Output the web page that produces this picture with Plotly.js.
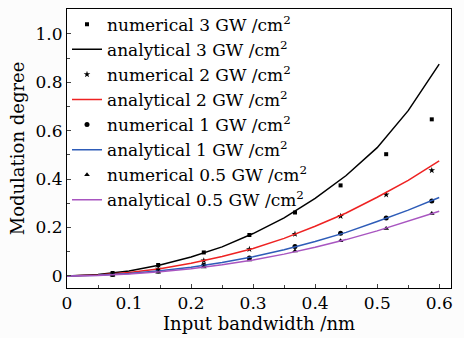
<!DOCTYPE html>
<html><head><meta charset="utf-8">
<script src="https://cdn.plot.ly/plotly-3.0.1.min.js"></script>
<style>html,body{margin:0;padding:0;background:#fff;}#chart{width:464px;height:338px;}</style>
</head><body><div id="chart"></div>
<script>
// Numerical sample positions (nm)
const numX = [0.0735, 0.147, 0.2205, 0.294, 0.3675, 0.441, 0.5145, 0.588];
const num3 = [0.012, 0.045, 0.097, 0.169, 0.262, 0.374, 0.503, 0.647];
const num2 = [0.006, 0.029, 0.063, 0.110, 0.173, 0.247, 0.336, 0.436];
const num1 = [0.006, 0.020, 0.044, 0.074, 0.121, 0.176, 0.239, 0.310];
const num05 = [0.004, 0.015, 0.037, 0.066, 0.103, 0.145, 0.196, 0.258];
// Analytical curves
const anaX = [0, 0.05, 0.1, 0.15, 0.2, 0.25, 0.3, 0.35, 0.4, 0.45, 0.5, 0.55, 0.6];
const ana3 = [0, 0.006, 0.020, 0.045, 0.078, 0.120, 0.175, 0.240, 0.320, 0.415, 0.530, 0.683, 0.875];
const ana2 = [0, 0.004, 0.014, 0.030, 0.052, 0.080, 0.113, 0.155, 0.205, 0.260, 0.325, 0.395, 0.475];
const ana1 = [0, 0.003, 0.010, 0.021, 0.036, 0.055, 0.079, 0.108, 0.142, 0.180, 0.225, 0.272, 0.324];
const ana05 = [0, 0.002, 0.008, 0.017, 0.030, 0.046, 0.066, 0.090, 0.118, 0.150, 0.186, 0.225, 0.267];
const names = ['numerical 3 GW /cm<sup>2</sup>', 'analytical 3 GW /cm<sup>2</sup>',
  'numerical 2 GW /cm<sup>2</sup>', 'analytical 2 GW /cm<sup>2</sup>',
  'numerical 1 GW /cm<sup>2</sup>', 'analytical 1 GW /cm<sup>2</sup>',
  'numerical 0.5 GW /cm<sup>2</sup>', 'analytical 0.5 GW /cm<sup>2</sup>'];
const xTickVals = [0, 0.1, 0.2, 0.3, 0.4, 0.5, 0.6];
const xTickText = ['0', '0.1', '0.2', '0.3', '0.4', '0.5', '0.6'];
const yTickVals = [0, 0.2, 0.4, 0.6, 0.8, 1.0];
const yTickText = ['0', '0.2', '0.4', '0.6', '0.8', '1.0'];

const mk = (y, sym, size) => ({x: numX, y: y, mode: 'markers', type: 'scatter',
  marker: {symbol: sym, size: size, color: '#000'}});
const ln = (y, c) => ({x: anaX, y: y, mode: 'lines', type: 'scatter',
  line: {color: c, width: 1.5}});
const traces = [mk(num3, 'square', 4), ln(ana3, '#000000'),
  mk(num2, 'star', 5), ln(ana2, '#ee2222'),
  mk(num1, 'circle', 5), ln(ana1, '#2e5cb8'),
  mk(num05, 'triangle-up', 5), ln(ana05, '#a855c0')];
traces.forEach((t, i) => t.name = names[i]);

const fam = '"DejaVu Serif", "Liberation Serif", serif';
Plotly.newPlot('chart', traces, {
  width: 464, height: 338,
  margin: {l: 67, r: 13, t: 8, b: 50},
  paper_bgcolor: '#fcfcfc', plot_bgcolor: '#ffffff',
  font: {family: fam, color: '#000', size: 17},
  showlegend: true,
  legend: {x: 0, y: 1.005, xanchor: 'left', yanchor: 'top', bgcolor: 'rgba(255,255,255,0)',
    font: {family: fam, size: 17, color: '#000'}, tracegroupgap: 0, itemwidth: 30, maxheight: 330},
  xaxis: {range: [0, 0.619], tickvals: xTickVals, ticktext: xTickText, ticks: 'inside', ticklen: 4,
    minor: {dtick: 0.05, ticks: 'inside', ticklen: 3}, showgrid: false, zeroline: false,
    showline: true, linecolor: '#000', linewidth: 1, mirror: true,
    title: {text: 'Input bandwidth /nm', font: {family: fam, size: 18}, standoff: 4}},
  yaxis: {range: [-0.05, 1.103], tickvals: yTickVals, ticktext: yTickText, ticks: 'inside', ticklen: 4,
    minor: {dtick: 0.1, ticks: 'inside', ticklen: 3}, showgrid: false, zeroline: false,
    showline: true, linecolor: '#000', linewidth: 1, mirror: true,
    title: {text: 'Modulation degree', font: {family: fam, size: 18}, standoff: 6}}
}, {staticPlot: true});
</script></body></html>
